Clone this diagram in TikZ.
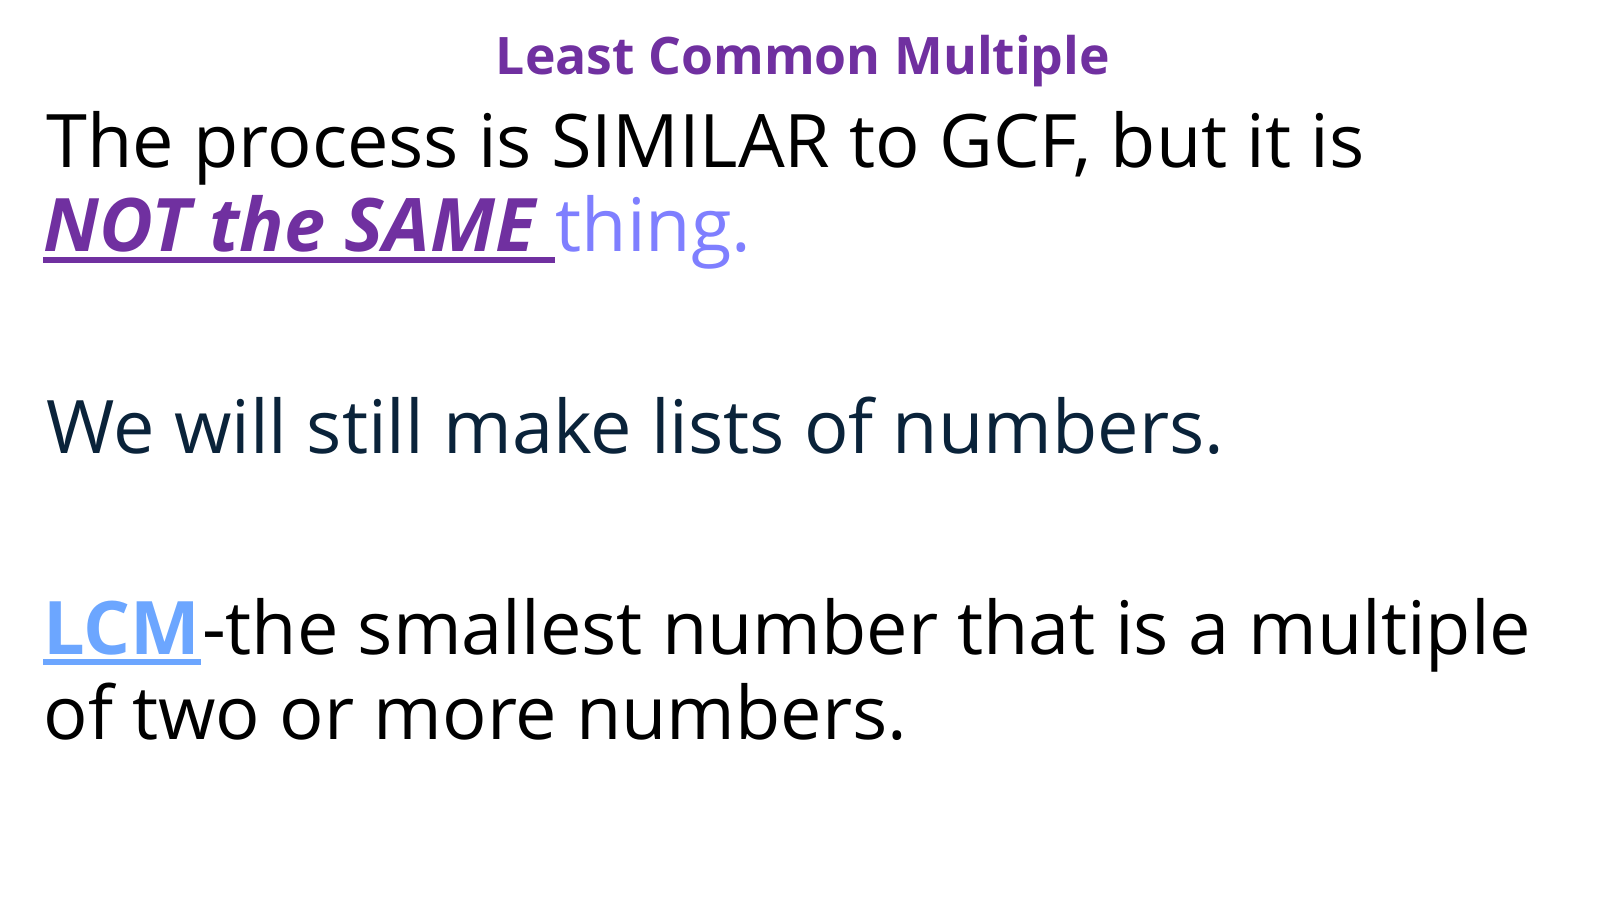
\documentclass[tikz,border=0pt]{standalone}
\usepackage{fontspec}
\setmainfont{Open Sans}
\usetikzlibrary{positioning}

\definecolor{titlepurple}{RGB}{112,48,160}
\definecolor{thingblue}{RGB}{127,127,255}
\definecolor{navytext}{RGB}{10,35,58}
\definecolor{lcmblue}{RGB}{108,166,255}

\tikzset{
    body/.style={anchor=base west,inner sep=0pt,font=\fontsize{21}{26}\selectfont},
    heading/.style={anchor=base,inner sep=0pt,text=titlepurple,font=\fontsize{14.7}{18}\selectfont\bfseries},
    uline/.style={line width=1.5pt}
}

\begin{document}
\begin{tikzpicture}[x=0.01cm,y=0.01cm,yscale=-1,xscale=1]
    % page 1600 x 900
    \useasboundingbox (0,0) rectangle (1600,900);

    % Text Node
    \node [heading] (title) at (803,74) {Least Common Multiple};
    % Text Node
    \node [body] (process) at (46,167) {The process is SIMILAR to GCF, but it is};
    % Text Node
    \node [body,text=titlepurple,font=\fontsize{21}{26}\selectfont\bfseries\itshape] (notsame) at (43,251) {NOT the SAME\ \mbox{}};
    % Text Node
    \node [body,text=thingblue] (thing) at (notsame.base east) {thing.};
    % Text Node
    \node [body,text=navytext] (lists) at (46,453) {We will still make lists of numbers.};
    % Text Node
    \node [body,text=lcmblue,font=\fontsize{21}{26}\selectfont\bfseries] (lcm) at (43,654) {LCM};
    % Text Node
    \node [body] (defn) at (lcm.base east) {-the smallest number that is a multiple};
    % Text Node
    \node [body] (defn2) at (43,739) {of two or more numbers.};

    % underlines
    \draw [uline,titlepurple] ([yshift=0.9mm]notsame.base west) -- ([yshift=0.9mm]notsame.base east);
    \draw [uline,lcmblue] ([yshift=0.8mm]lcm.base west) -- ([yshift=0.8mm]lcm.base east);

\end{tikzpicture}
\end{document}
